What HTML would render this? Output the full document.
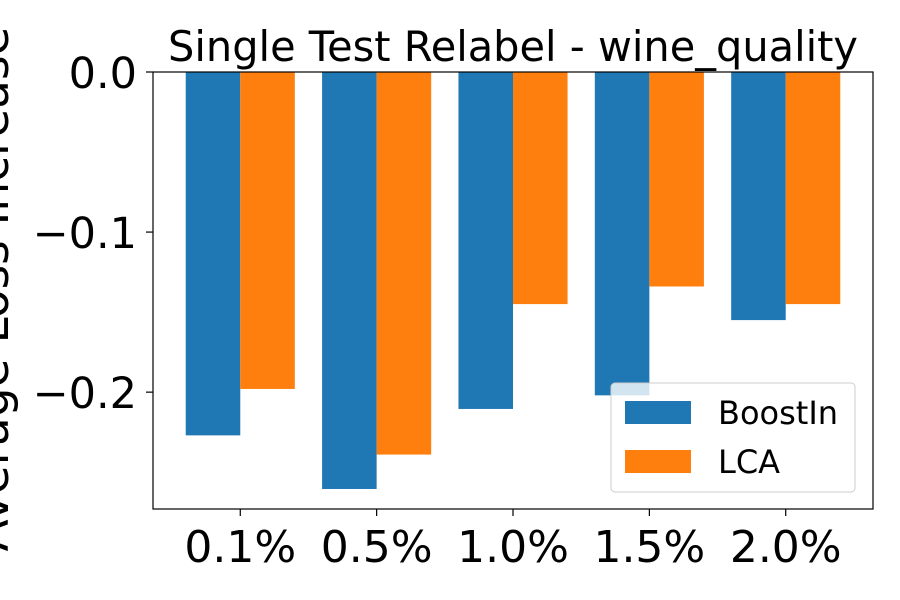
<!DOCTYPE html>
<html><head><meta charset="utf-8"><style>
body{margin:0;background:#fff;}
svg{display:block;font-family:"DejaVu Sans","Liberation Sans",sans-serif;}
</style></head><body>
<svg id="chart" width="900" height="600">
<text x="513" y="61" text-anchor="middle" font-size="41.5">Single Test Relabel - wine_quality</text>
<text transform="translate(8,289) rotate(-90)" text-anchor="middle" font-size="47">Average Loss Increase</text>
<g id="bars"></g>
<g id="axes"></g>
<g>
<rect x="611" y="383" width="244" height="109" rx="4" fill="#fff" fill-opacity="0.8" stroke="#ccc"/>
<rect x="625" y="401" width="66" height="23" fill="#1f77b4"/>
<text x="718" y="424" font-size="32">BoostIn</text>
<rect x="625" y="450" width="66" height="23" fill="#ff7f0e"/>
<text x="718" y="473" font-size="32">LCA</text>
</g>
</svg>
<script>
const categories=["0.1%","0.5%","1.0%","1.5%","2.0%"];
const boostin=[-0.227,-0.2605,-0.2105,-0.202,-0.155];
const lca=[-0.198,-0.239,-0.145,-0.134,-0.145];
const yTicks=[0.0,-0.1,-0.2];
const yTickLabels=["0.0","\u22120.1","\u22120.2"];
const L=153,R=873,T=72,B=509;
const yMin=-0.273,yMax=0;
const xMin=-0.64,xMax=4.64;
const ns="http://www.w3.org/2000/svg";
function y(v){return T+(yMax-v)/(yMax-yMin)*(B-T);}
function x(i){return L+(i-xMin)/(xMax-xMin)*(R-L);}
const bw=0.4*(R-L)/(xMax-xMin);
const bars=document.getElementById('bars');
function mk(tag,attrs,parent){const e=document.createElementNS(ns,tag);for(const k in attrs)e.setAttribute(k,attrs[k]);parent.appendChild(e);return e;}
categories.forEach((c,i)=>{
 const b=mk('rect',{x:x(i)-bw,y:y(0),width:bw,height:y(boostin[i])-y(0),fill:'#1f77b4'},bars);
 
 
 const l=mk('rect',{x:x(i),y:y(0),width:bw,height:y(lca[i])-y(0),fill:'#ff7f0e'},bars);
 
 
});
const ax=document.getElementById('axes');
const frame=mk('rect',{x:L,y:T,width:R-L,height:B-T,fill:'none',stroke:'#000','stroke-width':1.2},ax);


yTicks.forEach((v,i)=>{
 mk('line',{x1:L-7,x2:L,y1:y(v),y2:y(v),stroke:'#000','stroke-width':1.2},ax);
 const t=mk('text',{x:L-16,y:y(v)+16,'text-anchor':'end','font-size':43},ax);
 t.textContent=yTickLabels[i];
 
 
});
categories.forEach((c,i)=>{
 mk('line',{x1:x(i),x2:x(i),y1:B,y2:B+7,stroke:'#000','stroke-width':1.2},ax);
 const t=mk('text',{x:x(i),y:B+53,'text-anchor':'middle','font-size':44},ax);
 t.textContent=c;
 
 
});
</script>
</body></html>
